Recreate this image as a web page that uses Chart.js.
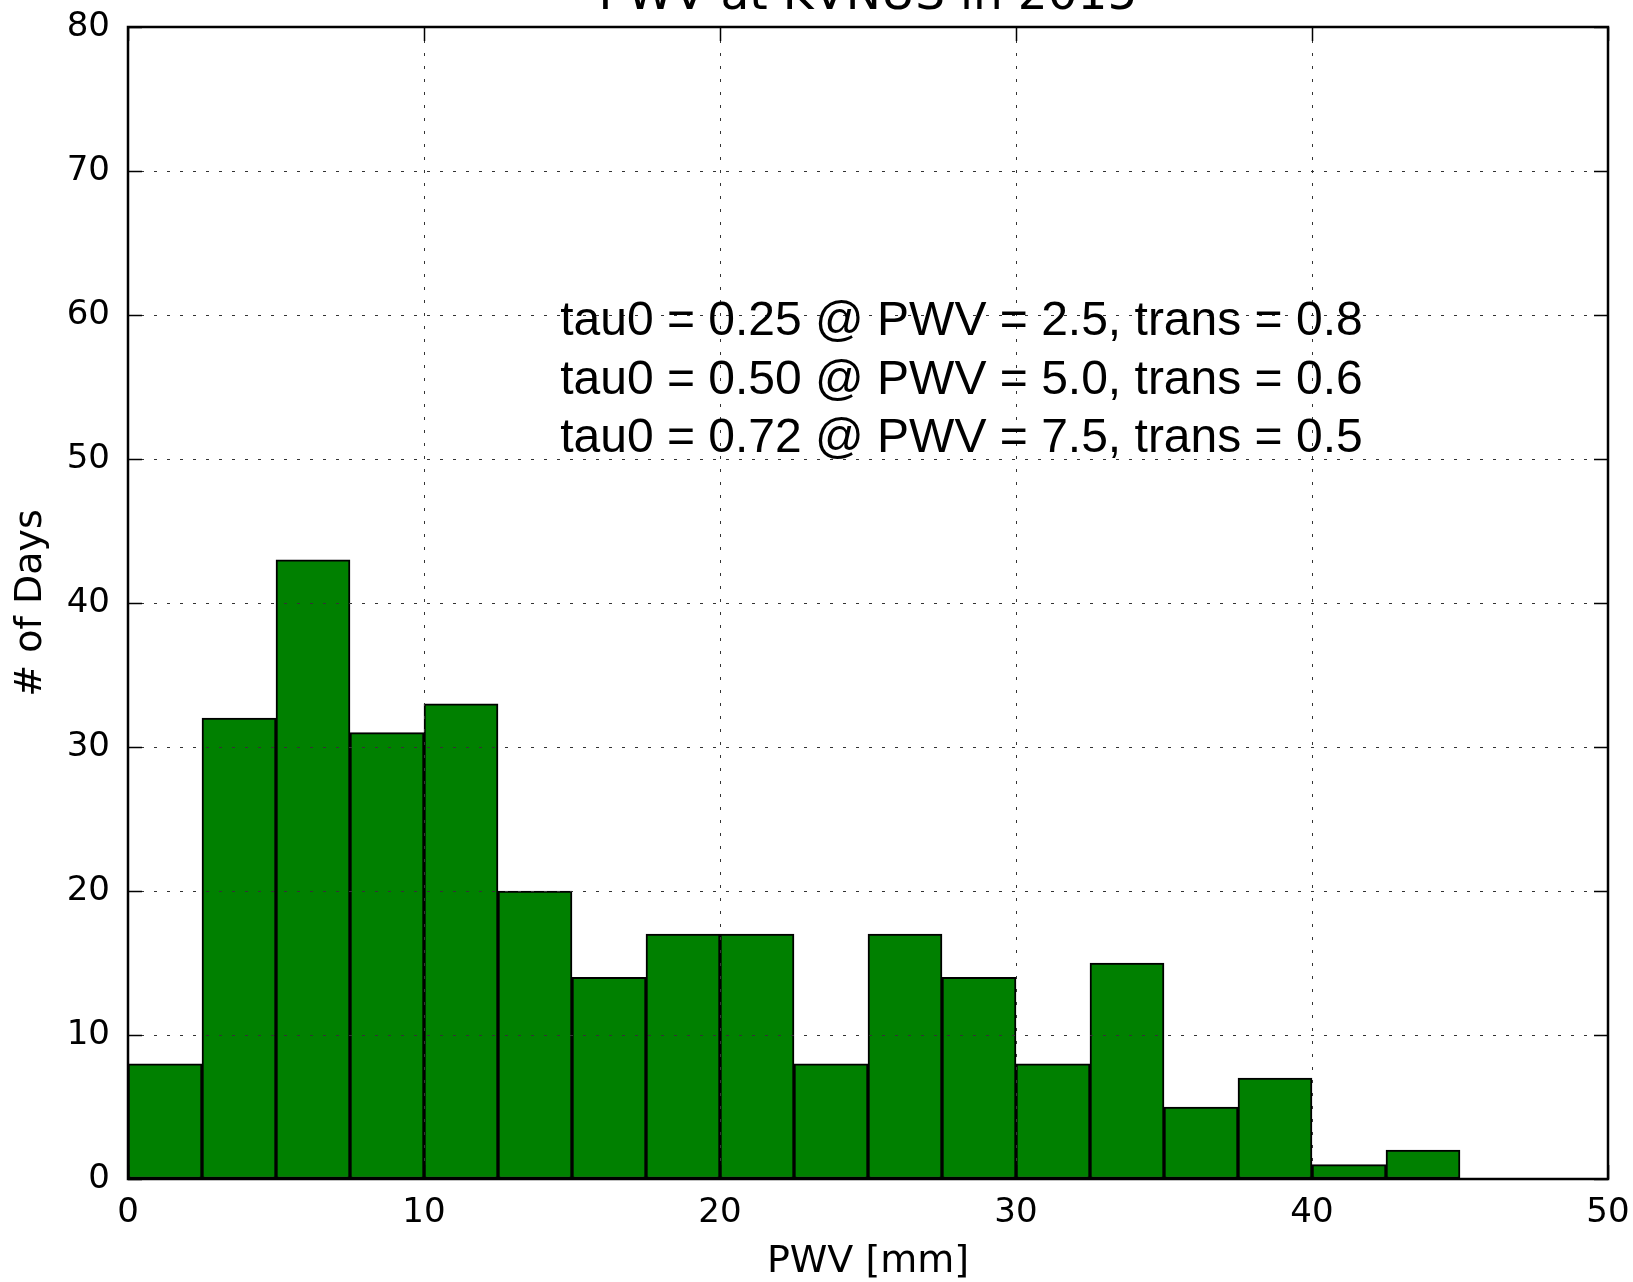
<!DOCTYPE html>
<html>
<head>
<meta charset="utf-8">
<title>PWV at KVNUS in 2015</title>
<script src="https://cdn.jsdelivr.net/npm/chart.js@4.4.1/dist/chart.umd.min.js"></script>
<style>
  html, body { margin: 0; padding: 0; background: #fff; }
  #wrap { width: 1633px; height: 1282px; }
</style>
</head>
<body>
<div id="wrap"><canvas id="chart" width="1633" height="1282"></canvas></div>
<script>
// histogram bins (PWV in mm) and number of days in each
const binStarts = [0, 2.5, 5, 7.5, 10, 12.5, 15, 17.5, 20, 22.5, 25, 27.5, 30, 32.5, 35, 37.5, 40, 42.5];
const binWidth = 2.5;
const dayCounts = [8, 32, 43, 31, 33, 20, 14, 17, 17, 8, 17, 14, 8, 15, 5, 7, 1, 2];

const xTicks = [0, 10, 20, 30, 40, 50];
const yTicks = [0, 10, 20, 30, 40, 50, 60, 70, 80];

const chartTitle = "PWV at KVNUS in 2015";
const xLabel = "PWV [mm]";
const yLabel = "# of Days";
const noteLines = [
  "tau0 = 0.25 @ PWV = 2.5, trans = 0.8",
  "tau0 = 0.50 @ PWV = 5.0, trans = 0.6",
  "tau0 = 0.72 @ PWV = 7.5, trans = 0.5"
];

const points = binStarts.map((start, i) => ({ x: start + binWidth / 2, y: dayCounts[i] }));

// frame, inward ticks, title and text box, matplotlib style
const framePlugin = {
  id: "frame",
  afterDraw(chart) {
    const { ctx, chartArea: a, scales } = chart;
    const tickLen = 14;

    ctx.save();
    ctx.strokeStyle = "#000";
    ctx.lineWidth = 1.5;

    ctx.beginPath();
    xTicks.forEach(v => {
      const px = Math.round(scales.x.getPixelForValue(v)) + 0.5;
      ctx.moveTo(px, a.bottom); ctx.lineTo(px, a.bottom - tickLen);
      ctx.moveTo(px, a.top); ctx.lineTo(px, a.top + tickLen);
    });
    yTicks.forEach(v => {
      const py = Math.round(scales.y.getPixelForValue(v)) + 0.5;
      ctx.moveTo(a.left, py); ctx.lineTo(a.left + tickLen, py);
      ctx.moveTo(a.right, py); ctx.lineTo(a.right - tickLen, py);
    });
    ctx.stroke();

    ctx.lineWidth = 2.5;
    ctx.strokeRect(a.left, a.top, a.right - a.left, a.bottom - a.top);

    ctx.fillStyle = "#000";
    ctx.font = "47px 'DejaVu Sans'";
    ctx.textAlign = "center";
    ctx.textBaseline = "alphabetic";
    ctx.fillText(chartTitle, (a.left + a.right) / 2, 9);

    ctx.font = "48px 'Liberation Sans', Arial, sans-serif";
    ctx.textAlign = "left";
    const nx = scales.x.getPixelForValue(14.6);
    const ny = scales.y.getPixelForValue(58.6);
    noteLines.forEach((t, i) => ctx.fillText(t, nx, ny + i * 58.5));
    ctx.restore();
  }
};

const tickFont = { family: "'DejaVu Sans'", size: 34 };
const labelFont = { family: "'DejaVu Sans'", size: 38, lineHeight: 1 };

new Chart(document.getElementById("chart"), {
  type: "bar",
  data: {
    datasets: [{
      label: yLabel,
      data: points,
      backgroundColor: "#008000",
      borderColor: "#000",
      borderWidth: 2,
      borderSkipped: false,
      barPercentage: 1,
      categoryPercentage: 1,
      grouped: false
    }]
  },
  options: {
    responsive: false,
    animation: false,
    devicePixelRatio: 1,
    layout: { padding: { left: 0, right: 25, top: 27, bottom: 0 } },
    plugins: {
      legend: { display: false },
      tooltip: { enabled: false },
      title: { display: false }
    },
    scales: {
      x: {
        type: "linear",
        min: 0,
        max: 50,
        offset: false,
        afterBuildTicks: s => { s.ticks = xTicks.map(v => ({ value: v })); },
        afterFit: s => { s.height = 103; s.paddingLeft = 0; s.paddingRight = 0; },
        grid: { color: "#333", lineWidth: 1, drawTicks: false, offset: false, z: 1 },
        border: { display: false, dash: [3, 10] },
        ticks: { color: "#000", font: tickFont, padding: 14, maxRotation: 0 },
        title: { display: true, text: xLabel, color: "#000", font: labelFont, padding: { top: 0, bottom: 1 } }
      },
      y: {
        type: "linear",
        min: 0,
        max: 80,
        afterBuildTicks: s => { s.ticks = yTicks.map(v => ({ value: v })); },
        afterFit: s => { s.width = 128; s.paddingTop = 0; s.paddingBottom = 0; },
        grid: { color: "#333", lineWidth: 1, drawTicks: false, z: 1 },
        border: { display: false, dash: [3, 10] },
        ticks: { color: "#000", font: tickFont, padding: 18 },
        title: { display: true, text: yLabel, color: "#000", font: labelFont, padding: { top: 12, bottom: 0 } }
      }
    }
  },
  plugins: [framePlugin]
});
</script>
</body>
</html>
